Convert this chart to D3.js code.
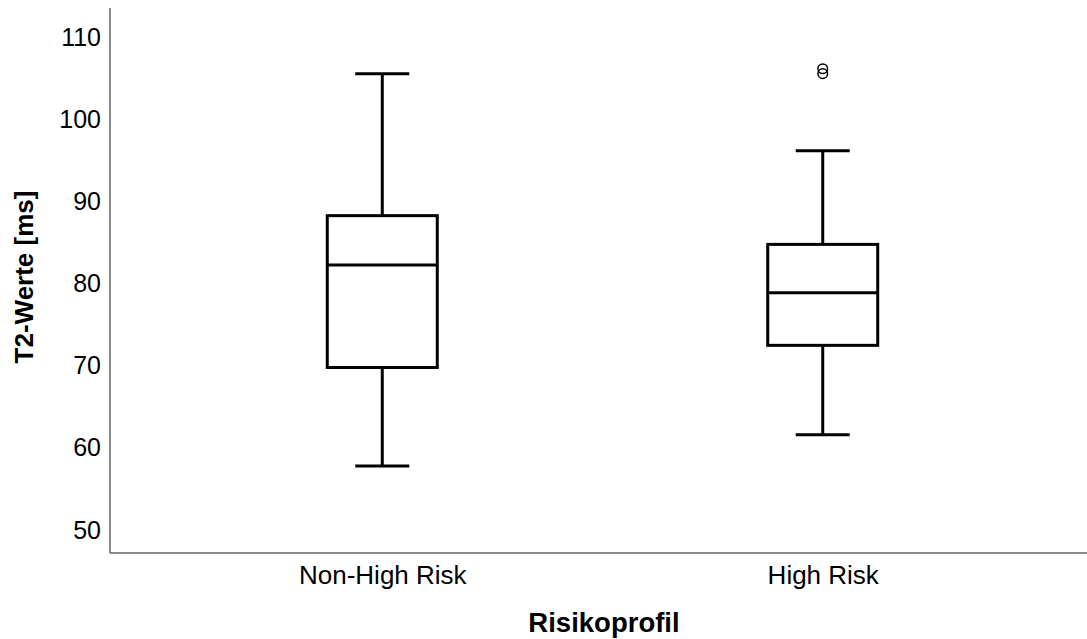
<!DOCTYPE html>
<html><head><meta charset="utf-8">
<script src="https://cdn.jsdelivr.net/npm/d3@7"></script>
<style>body{margin:0;background:#fff}svg{display:block}text{font-family:"Liberation Sans",Arial,sans-serif}</style>
</head><body><svg id="c" width="1087" height="639"></svg>
<script>
const categories = ["Non-High Risk", "High Risk"];
const whiskerLow  = [57.8, 61.6];
const q1          = [69.8, 72.5];
const median      = [82.3, 78.9];
const q3          = [88.3, 84.8];
const whiskerHigh = [105.6, 96.2];
const outliers    = [[], [106.2, 105.6]];
const yTicks = [50, 60, 70, 80, 90, 100, 110];

const svg = d3.select("#c");
const L = 110, R = 1087, T = 8, B = 553;
const y = d3.scaleLinear().domain([47.2, 113.6]).range([B, T]);
const x = d3.scalePoint().domain(categories).range([118, 1087]).padding(0.6);
const FONT = "Liberation Sans, Arial, sans-serif";

svg.append("line").attr("x1", L).attr("x2", L).attr("y1", T).attr("y2", B).attr("stroke", "#666").attr("stroke-width", 1.5);
svg.append("line").attr("x1", L).attr("x2", R).attr("y1", B).attr("y2", B).attr("stroke", "#666").attr("stroke-width", 1.5);

const yAxis = svg.append("g").attr("transform", `translate(${L},0)`)
  .call(d3.axisLeft(y).tickValues(yTicks).tickSize(0).tickPadding(9));
yAxis.select(".domain").remove();
yAxis.attr("font-size", null).attr("font-family", null);
yAxis.selectAll("text").attr("font-size", 25).attr("fill", "#000").attr("font-family", FONT);

const xAxis = svg.append("g").attr("transform", `translate(0,${B})`)
  .call(d3.axisBottom(x).tickSize(0).tickPadding(13));
xAxis.select(".domain").remove();
xAxis.attr("font-size", null).attr("font-family", null);
xAxis.selectAll("text").attr("font-size", 26).attr("fill", "#000").attr("font-family", FONT);

const boxW = 110, capW = 54;
const g = svg.append("g").attr("fill", "none").attr("stroke", "#000").attr("stroke-width", 3);
categories.forEach((c, i) => {
  const cx = x(c);
  g.append("line").attr("x1", cx).attr("x2", cx).attr("y1", y(whiskerHigh[i])).attr("y2", y(q3[i]));
  g.append("line").attr("x1", cx).attr("x2", cx).attr("y1", y(q1[i])).attr("y2", y(whiskerLow[i]));
  g.append("line").attr("x1", cx - capW/2).attr("x2", cx + capW/2).attr("y1", y(whiskerHigh[i])).attr("y2", y(whiskerHigh[i]));
  g.append("line").attr("x1", cx - capW/2).attr("x2", cx + capW/2).attr("y1", y(whiskerLow[i])).attr("y2", y(whiskerLow[i]));
  g.append("rect").attr("x", cx - boxW/2).attr("width", boxW).attr("y", y(q3[i])).attr("height", y(q1[i]) - y(q3[i])).attr("fill", "#fff");
  g.append("line").attr("x1", cx - boxW/2).attr("x2", cx + boxW/2).attr("y1", y(median[i])).attr("y2", y(median[i]));
  outliers[i].forEach(v => {
    svg.append("circle").attr("cx", cx).attr("cy", y(v)).attr("r", 4.8).attr("fill", "none").attr("stroke", "#000").attr("stroke-width", 1.5);
  });
});

svg.append("text").attr("x", 604).attr("y", 632).attr("text-anchor", "middle")
  .attr("font-size", 27.5).attr("font-weight", "bold").attr("font-family", FONT).text("Risikoprofil");
svg.append("text").attr("transform", `translate(33,277) rotate(-90)`).attr("text-anchor", "middle")
  .attr("font-size", 26).attr("font-weight", "bold").attr("font-family", FONT).text("T2-Werte [ms]");
</script></body></html>
